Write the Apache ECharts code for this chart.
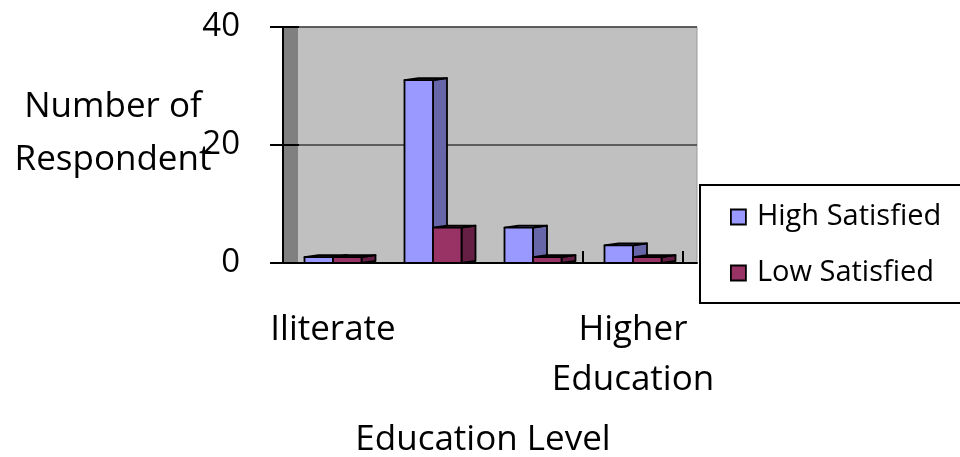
<!DOCTYPE html>
<html>
<head>
<meta charset="utf-8">
<script src="https://cdn.jsdelivr.net/npm/echarts@6/dist/echarts.min.js"></script>
<style>
  html, body { margin: 0; padding: 0; background: #ffffff; }
  #chart { width: 960px; height: 457px; }
</style>
</head>
<body>
<div id="chart"></div>
<script>
// Survey counts by education level
const categories = ['Iliterate', 'Primary', 'Secondary', 'Higher\nEducation'];
const highSatisfied = [1, 31, 6, 3];
const lowSatisfied = [1, 6, 1, 1];
const yTicks = [0, 20, 40];
const yAxisTitle = 'Number of\nRespondent';

// Layout of the plotting box and the 3D depth of walls / bars
const FONT = '"Open Sans", "Noto Sans", sans-serif';
const PLOT = { left: 283, top: 27, width: 400, height: 236 };
const DEPTH = 14;
const LEGEND_BOX = { x: 700, y: 185, width: 300, height: 118 };

const seriesStyle = [
  { front: '#9999ff', side: '#6666a8', top: '#aaaaff' },
  { front: '#993366', side: '#661f44', top: '#a8476f' }
];

function bar3d(seriesIdx) {
  return function (params, api) {
    const cat = api.value(0);
    const val = api.value(1);
    const base = api.coord([cat, 0]);
    const top = api.coord([cat, val]);
    const band = api.size([1, 0])[0];
    const w = band * 0.285;
    const dx = band * 0.14;
    const dy = -2;
    const x0 = base[0] - w + seriesIdx * w;
    const x1 = x0 + w;
    const yb = base[1];
    const yt = top[1];
    const st = seriesStyle[seriesIdx];
    const stroke = { stroke: '#000000', lineWidth: 1.8, lineJoin: 'round' };
    return {
      type: 'group',
      children: [
        {
          type: 'polygon',
          shape: { points: [[x1, yt], [x1 + dx, yt + dy], [x1 + dx, yb + dy], [x1, yb]] },
          style: Object.assign({ fill: st.side }, stroke)
        },
        {
          type: 'polygon',
          shape: { points: [[x0, yt], [x0 + dx, yt + dy], [x1 + dx, yt + dy], [x1, yt]] },
          style: Object.assign({ fill: st.top }, stroke)
        },
        {
          type: 'rect',
          shape: { x: x0, y: yt, width: w, height: yb - yt },
          style: Object.assign({ fill: st.front }, stroke)
        }
      ]
    };
  };
}

const chart = echarts.init(document.getElementById('chart'), null, { renderer: 'canvas' });

const gridBase = { top: PLOT.top, height: PLOT.height, containLabel: false, outerBoundsMode: 'none' };

// Plain value axes used only to rule the walls
function wallYAxis(gridIndex, color, width) {
  return {
    type: 'value',
    gridIndex: gridIndex,
    min: yTicks[0],
    max: yTicks[yTicks.length - 1],
    interval: yTicks[1] - yTicks[0],
    axisLine: { show: false },
    axisTick: { show: false },
    axisLabel: { show: false },
    splitLine: { show: true, lineStyle: { color: color, width: width } }
  };
}

chart.setOption({
  animation: false,
  backgroundColor: '#ffffff',
  textStyle: { fontFamily: FONT },
  // Vertical axis caption, set horizontally to the left of the scale
  title: {
    text: yAxisTitle,
    left: 113,
    top: 81,
    padding: 0,
    textAlign: 'center',
    textStyle: { fontFamily: FONT, fontSize: 35, fontWeight: 'normal', color: '#000000', lineHeight: 53 }
  },
  graphic: [
    { // back wall
      type: 'rect', z: -1,
      shape: { x: PLOT.left + DEPTH, y: PLOT.top, width: PLOT.width, height: PLOT.height },
      style: { fill: '#c0c0c0', stroke: '#9a9a9a', lineWidth: 1 }
    },
    { // side wall
      type: 'rect', z: -1,
      shape: { x: PLOT.left + 1, y: PLOT.top, width: DEPTH, height: PLOT.height },
      style: { fill: '#808080' }
    },
    { // legend frame, running past the right edge
      type: 'rect', z: 5,
      shape: { x: LEGEND_BOX.x, y: LEGEND_BOX.y, width: LEGEND_BOX.width, height: LEGEND_BOX.height },
      style: { fill: '#ffffff', stroke: '#000000', lineWidth: 2 }
    }
  ],
  legend: {
    orient: 'vertical',
    left: LEGEND_BOX.x,
    top: LEGEND_BOX.y,
    z: 10,
    padding: [17, 10, 15, 30],
    itemGap: 26,
    itemWidth: 15,
    itemHeight: 15,
    icon: 'rect',
    textStyle: { fontFamily: FONT, fontSize: 29, color: '#000000', lineHeight: 30, padding: [0, 0, 0, 6] },
    itemStyle: { borderColor: '#000000', borderWidth: 1.8 },
    data: ['High Satisfied', 'Low Satisfied']
  },
  grid: [
    Object.assign({ left: PLOT.left, width: PLOT.width }, gridBase),
    Object.assign({ left: PLOT.left + DEPTH, width: PLOT.width }, gridBase),
    Object.assign({ left: PLOT.left, width: DEPTH + 2 }, gridBase)
  ],
  xAxis: [
    {
      type: 'category',
      gridIndex: 0,
      data: categories,
      boundaryGap: true,
      name: 'Education Level',
      nameLocation: 'middle',
      nameGap: 152,
      nameMoveOverlap: false,
      nameTextStyle: { fontFamily: FONT, fontSize: 35, color: '#000000', lineHeight: 50 },
      axisLine: { lineStyle: { color: '#000000', width: 2 } },
      axisTick: { show: true, inside: true, length: 12, lineStyle: { color: '#000000', width: 2 } },
      axisLabel: {
        interval: function (index) { return index === 0 || index === 3; },
        fontFamily: FONT, fontSize: 35, color: '#000000', lineHeight: 50, margin: 42
      }
    },
    {
      type: 'category',
      gridIndex: 1,
      data: categories,
      axisLine: { lineStyle: { color: '#000000', width: 2 } },
      axisTick: { show: false },
      axisLabel: { show: false }
    },
    {
      type: 'value',
      gridIndex: 2,
      show: false
    }
  ],
  yAxis: [
    {
      type: 'value',
      gridIndex: 0,
      min: yTicks[0],
      max: yTicks[yTicks.length - 1],
      interval: yTicks[1] - yTicks[0],
      axisLine: { show: true, lineStyle: { color: '#000000', width: 2 } },
      axisTick: { show: true, length: 13, lineStyle: { color: '#000000', width: 2 } },
      axisLabel: { fontFamily: FONT, fontSize: 33, color: '#000000', margin: 43 },
      splitLine: { show: false }
    },
    wallYAxis(1, '#3c3c3c', 1.5),
    wallYAxis(2, '#000000', 2)
  ],
  series: [
    {
      name: 'High Satisfied',
      type: 'custom',
      xAxisIndex: 0,
      yAxisIndex: 0,
      itemStyle: { color: seriesStyle[0].front },
      renderItem: bar3d(0),
      encode: { x: 0, y: 1 },
      data: highSatisfied.map(function (v, i) { return [i, v]; }),
      z: 3
    },
    {
      name: 'Low Satisfied',
      type: 'custom',
      xAxisIndex: 0,
      yAxisIndex: 0,
      itemStyle: { color: seriesStyle[1].front },
      renderItem: bar3d(1),
      encode: { x: 0, y: 1 },
      data: lowSatisfied.map(function (v, i) { return [i, v]; }),
      z: 4
    }
  ]
});
</script>
</body>
</html>
